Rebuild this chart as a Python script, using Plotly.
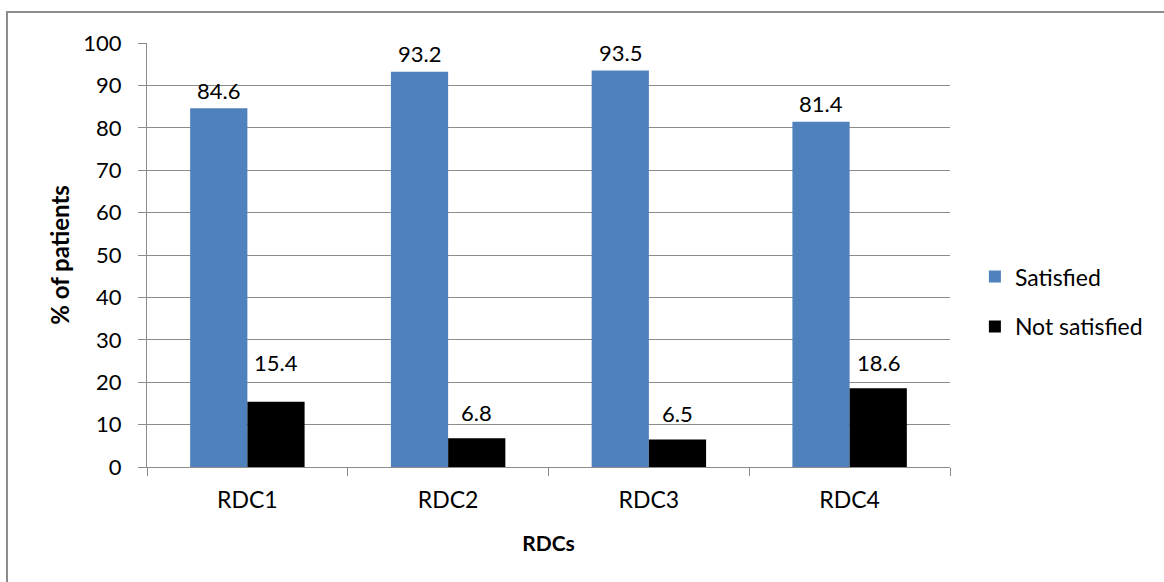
import plotly.graph_objects as go

categories = ["RDC1", "RDC2", "RDC3", "RDC4"]
satisfied = [84.6, 93.2, 93.5, 81.4]
not_satisfied = [15.4, 6.8, 6.5, 18.6]
y_ticks = [0, 10, 20, 30, 40, 50, 60, 70, 80, 90, 100]

W, H = 1164, 582
L, R, T, B = 147, 214, 43, 115
pw, ph = W - L - R, H - T - B
bar_px = 57  # width of one bar in pixels, used to centre the value labels

font_family = "Lato, 'Open Sans', sans-serif"

# pixel lift of each value label above its bar (the labels sit a bit higher on the black bars)
lift_satisfied = [18, 18, 18, 18]
lift_not_satisfied = [39, 26, 26, 26]

fig = go.Figure()
fig.add_trace(go.Bar(
    x=categories, y=satisfied, name="Satisfied", legendgroup="a",
    marker=dict(color="#4f81bd", line=dict(width=0)),
))
fig.add_trace(go.Bar(
    x=categories, y=not_satisfied, name="Not satisfied", legendgroup="b",
    marker=dict(color="#000000", line=dict(width=0)),
))

for values, lifts, side in [(satisfied, lift_satisfied, -1), (not_satisfied, lift_not_satisfied, 1)]:
    for cat, v, lift in zip(categories, values, lifts):
        fig.add_annotation(x=cat, y=v, text=f"{v:.1f}", showarrow=False,
                           xshift=side * bar_px / 2, yshift=lift, yanchor="middle",
                           font=dict(size=22, color="black"))

# outer chart border (top and left visible, rest runs off the picture)
fig.add_shape(type="rect", xref="paper", yref="paper",
              x0=(7 - L) / pw, x1=(W + 10 - L) / pw,
              y0=-(H + 10 - T - ph) / ph, y1=1 + (T - 12) / ph,
              line=dict(color="#8c8c8c", width=2), layer="below")

fig.update_layout(
    width=W, height=H,
    margin=dict(l=L, r=R, t=T, b=B),
    paper_bgcolor="white", plot_bgcolor="white",
    font=dict(family=font_family, size=22, color="black"),
    barmode="group", bargap=0.43, bargroupgap=0,
    showlegend=True,
    legend=dict(x=1.031, y=0.39, xanchor="left", yanchor="middle",
                font=dict(size=23), traceorder="grouped", tracegroupgap=17,
                itemwidth=30),
    xaxis=dict(
        title=dict(text="<b>RDCs</b>", font=dict(size=21), standoff=24),
        showline=True, linecolor="#8c8c8c", linewidth=1,
        ticks="outside", tickson="boundaries", ticklen=8, tickcolor="#8c8c8c",
        tickfont=dict(size=23), ticklabelstandoff=12, automargin=False,
    ),
    yaxis=dict(
        title=dict(text="<b>% of patients</b>", font=dict(size=24), standoff=6),
        range=[0, 100], tickvals=y_ticks,
        showgrid=True, gridcolor="#8c8c8c", gridwidth=1,
        showline=True, linecolor="#8c8c8c", linewidth=1,
        ticks="outside", ticklen=8, tickcolor="#8c8c8c",
        tickfont=dict(size=22), zeroline=False, ticklabelstandoff=12,
        automargin=False,
    ),
)

fig.write_html("out.html", config={"displayModeBar": False},
               post_script="document.body.style.margin='0';")
